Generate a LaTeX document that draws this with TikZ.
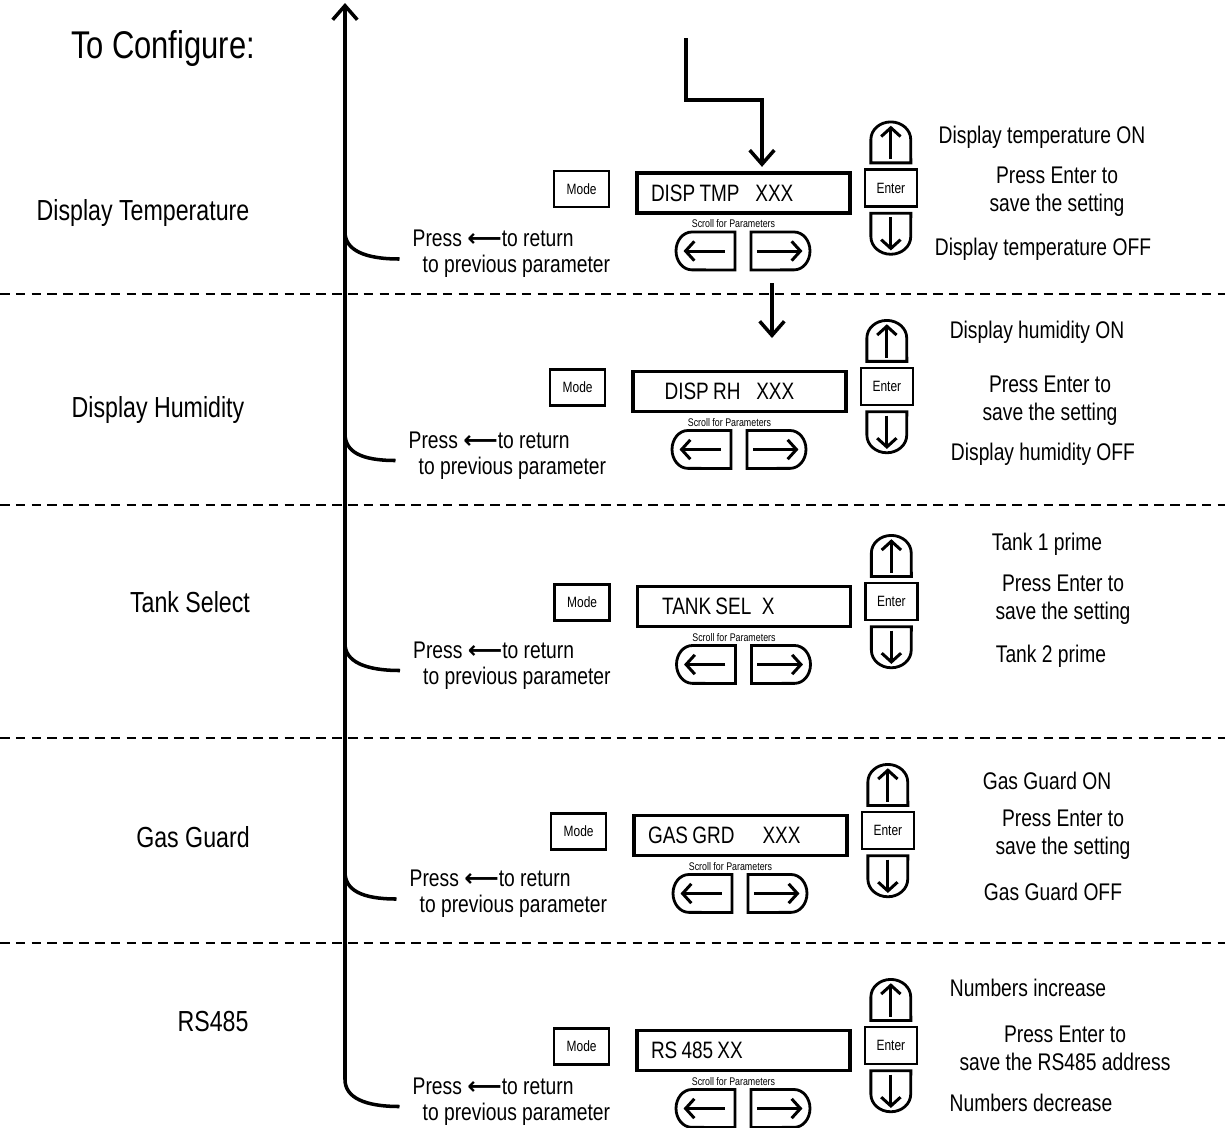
\documentclass[tikz,border=0pt]{standalone}
\usepackage{fontspec}
\setmainfont{Liberation Sans}[FakeStretch=0.8]
\newfontfamily\arrowfont{DejaVu Sans}
\usetikzlibrary{positioning, arrows.meta, calc}
\newcommand{\gap}{\hspace{2.4pt}}

\begin{document}
\begin{tikzpicture}[
        x=0.02cm, y=-0.02cm,
        heading/.style={font=\fontsize{16.5}{19}\selectfont},
        note/.style={font=\fontsize{13.7}{15}\selectfont, align=left, anchor=west},
        hint/.style={font=\fontsize{13.7}{15.9}\selectfont, align=center},
        display/.style={draw, line width=2pt, minimum width=4.26cm, minimum height=0.8cm,
            text width=3.7cm, inner xsep=0.28cm, align=left,
            font=\fontsize{13.5}{15}\selectfont},
        key/.style={draw, line width=1.3pt, inner sep=0pt, font=\fontsize{8.5}{10}\selectfont},
        key place/.style={inner sep=0pt, outer sep=0pt},
        key line/.style={line width=1.6pt},
        key arrow/.style={line width=1.7pt, -{Straight Barb[length=5pt,width=11pt]}},
        flow/.style={line width=2pt, -{Straight Barb[length=8pt,width=14pt]}},
        back line/.style={line width=2pt},
        divider/.style={line width=1.2pt, dash pattern=on 5.5pt off 3.5pt}
    ]

    % Page frame
    \useasboundingbox (0,0) rectangle (1225,1127);

    % Position of the return line
    \def\axis{345}
    \coordinate (axis) at (\axis,0);
    \coordinate (top) at (\axis,3);

    \node[font=\fontsize{22}{26}\selectfont] (config) at (163,48) {To Configure:};

    % Section dividers
    \foreach \y in {294,505,738,943}
        \draw[divider] (0,\y) -- (1225,\y);

    % Parameter names
    \foreach \i/\x/\y/\t in {1/143/213/Display Temperature, 2/158/410/Display Humidity,
            3/190/602/Tank Select, 4/193/837/Gas Guard, 5/213/1022/RS485}
        \node[heading] (title\i) at (\x,\y) {\t};

    % Keypad of each parameter
    \foreach \i/\x/\y/\ind/\py/\txt in {
            1/743.5/193/0/61/{DISP\gap TMP\hspace{9pt}XXX},
            2/739.5/391.5/10/64/{DISP\gap RH\hspace{9pt}XXX},
            3/744/606.5/6/59/{TANK\gap SEL\hspace{6pt}X},
            4/740.5/835.5/0/58.5/{GAS\gap GRD\hspace{16pt}XXX},
            5/743.5/1050.5/0/51/{RS\gap 485\gap XX}}{
        \node[display] (disp\i) at (\x,\y) {\hspace*{\ind pt}\txt};
        \node[key, minimum width=1.1cm, minimum height=0.72cm, left=0.5cm of disp\i, yshift=2.3pt] (mode\i) {Mode};
        \node[font=\fontsize{6.3}{7}\selectfont, inner sep=0.5pt, below=2pt of disp\i, xshift=-5.7pt] (scroll\i) {Scroll for Parameters};
        \node[key, minimum width=1.04cm, minimum height=0.74cm, right=0.24cm of disp\i, yshift=2.8pt] (enter\i) {Enter};
        % scroll and step keys
        \node[key place, minimum width=1.18cm, minimum height=0.76cm] (left\i) at ([shift={(-38,58)}]disp\i.center) {};
        \node[key place, minimum width=1.18cm, minimum height=0.76cm] (right\i) at ([shift={(37,58)}]disp\i.center) {};
        \node[key place, minimum width=0.8cm, minimum height=0.82cm] (up\i) at ([yshift=26pt]enter\i.center) {};
        \node[key place, minimum width=0.8cm, minimum height=0.82cm] (down\i) at ([yshift=-26pt]enter\i.center) {};
        \draw[key line] (left\i.north east) -- ([xshift=9pt]left\i.north west)
            arc[start angle=90, end angle=270, x radius=9pt, y radius=10.77pt] -- (left\i.south east) -- cycle;
        \draw[key line] (right\i.north west) -- ([xshift=-9pt]right\i.north east)
            arc[start angle=90, end angle=-90, x radius=9pt, y radius=10.77pt] -- (right\i.south west) -- cycle;
        \draw[key line] (up\i.south west) -- ([yshift=-10pt]up\i.north west)
            arc[start angle=180, end angle=0, x radius=11.34pt, y radius=10pt] -- (up\i.south east) -- cycle;
        \draw[key line] (down\i.north west) -- ([yshift=10pt]down\i.south west)
            arc[start angle=180, end angle=360, x radius=11.34pt, y radius=10pt] -- (down\i.north east) -- cycle;
        \draw[key arrow] ([xshift=11pt]left\i.center) -- ([xshift=-12.5pt]left\i.center);
        \draw[key arrow] ([xshift=-13.5pt]right\i.center) -- ([xshift=12.5pt]right\i.center);
        \draw[key arrow] ([yshift=-9.5pt]up\i.center) -- ([yshift=9.5pt]up\i.center);
        \draw[key arrow] ([yshift=9.5pt]down\i.center) -- ([yshift=-9.5pt]down\i.center);
        % return note
        \node[note] (press\i) at ([shift={(-337,\py)}]disp\i.center)
            {Press {\arrowfont\bfseries ⟵}to return\\\hspace*{5.7pt}to previous parameter};
        \coordinate (back\i) at ([shift={(-7,5)}]press\i.west);
        \ifnum\i<5
            \draw[back line] ($(back\i -| axis)+(0,-27)$) .. controls +(0,18) and +(-35,0) .. (back\i);
        \fi
    }

    % Return line up to the top
    \draw[flow] (back5) .. controls +(-35,0) and +(0,18) .. ($(back5 -| axis)+(0,-27)$) -- (top);

    % Entry and next parameter arrows
    \coordinate (entry) at (686,38);
    \coordinate (kink) at (762,100);
    \draw[flow, shorten >=2.5pt] (entry) |- (kink) -- (kink |- disp1.north);
    \coordinate (next) at (772,338);
    \draw[flow, shorten <=7.4pt] (right1.south -| next) -- (next);

    % Key meanings on the right
    \node[hint] (on1) at (1042,137) {Display temperature ON};
    \node[hint] (save1) at (1057,192) {Press Enter to\\save the setting};
    \node[hint] (off1) at (1043,249) {Display temperature OFF};

    \node[hint] (on2) at (1037,332) {Display humidity ON};
    \node[hint] (save2) at (1050,400.5) {Press Enter to\\save the setting};
    \node[hint] (off2) at (1043,454) {Display humidity OFF};

    \node[hint] (on3) at (1047,544) {Tank 1 prime};
    \node[hint] (save3) at (1063,599.5) {Press Enter to\\save the setting};
    \node[hint] (off3) at (1051,656) {Tank 2 prime};

    \node[hint] (on4) at (1047,781) {Gas Guard ON};
    \node[hint] (save4) at (1063,834.5) {Press Enter to\\save the setting};
    \node[hint] (off4) at (1053,892) {Gas Guard OFF};

    \node[hint] (on5) at (1028,988) {Numbers increase};
    \node[hint] (save5) at (1065,1048) {Press Enter to\\save the RS485 address};
    \node[hint] (off5) at (1031,1103) {Numbers decrease};

\end{tikzpicture}
\end{document}
